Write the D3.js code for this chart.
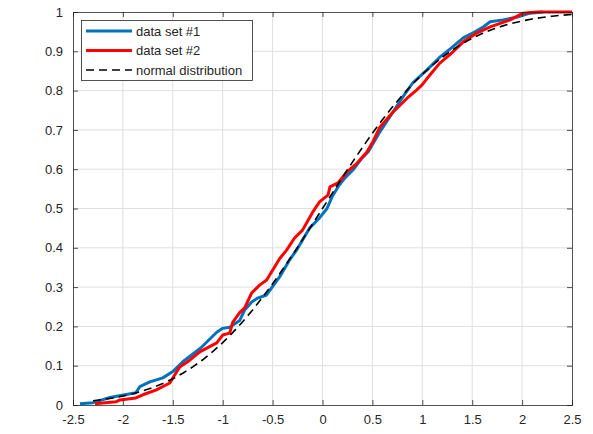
<!DOCTYPE html>
<html><head><meta charset="utf-8">
<script src="https://cdn.jsdelivr.net/npm/d3@7"></script>
<style>body{margin:0;background:#fff;} svg{display:block;} text{font-family:"Liberation Sans",Arial,sans-serif;}</style>
</head><body>
<svg id="c" width="593" height="434"></svg>
<script>
const xTicks = [-2.5,-2,-1.5,-1,-0.5,0,0.5,1,1.5,2,2.5];
const yTicks = [0,0.1,0.2,0.3,0.4,0.5,0.6,0.7,0.8,0.9,1];
const seriesNames = ["data set #1","data set #2","normal distribution"];

const set1X = [-2.43,-2.30,-2.13,-1.87,-1.83,-1.73,-1.60,-1.50,-1.40,-1.22,-1.06,-1.0,-0.93,-0.83,-0.78,-0.71,-0.65,-0.56,-0.51,-0.43,-0.33,-0.26,-0.20,-0.13,-0.03,0.045,0.095,0.155,0.225,0.305,0.395,0.46,0.575,0.705,0.805,0.905,1.045,1.175,1.28,1.41,1.51,1.61,1.68,1.81,1.95,2.08,2.21];
const set1Y = [0.003,0.006,0.019,0.031,0.047,0.059,0.069,0.085,0.11,0.145,0.185,0.195,0.198,0.215,0.242,0.262,0.272,0.28,0.298,0.326,0.369,0.394,0.42,0.45,0.476,0.50,0.529,0.555,0.578,0.598,0.628,0.645,0.695,0.745,0.784,0.82,0.852,0.885,0.906,0.934,0.947,0.962,0.975,0.98,0.987,0.997,1.0];

const set2X = [-2.28,-2.07,-2.03,-1.87,-1.80,-1.67,-1.53,-1.47,-1.43,-1.33,-1.23,-1.06,-1.0,-0.93,-0.90,-0.83,-0.78,-0.71,-0.63,-0.56,-0.50,-0.43,-0.36,-0.28,-0.20,-0.10,-0.03,0.055,0.075,0.155,0.245,0.345,0.445,0.505,0.575,0.705,0.845,0.945,1.0,1.045,1.175,1.28,1.41,1.55,1.68,1.88,2.01,2.15,2.5];
const set2Y = [0.003,0.008,0.013,0.018,0.026,0.038,0.056,0.081,0.097,0.114,0.135,0.158,0.178,0.183,0.21,0.235,0.247,0.285,0.305,0.318,0.343,0.372,0.394,0.425,0.445,0.49,0.517,0.534,0.555,0.565,0.593,0.615,0.644,0.67,0.707,0.745,0.78,0.802,0.815,0.83,0.87,0.892,0.924,0.947,0.962,0.98,0.997,1.0,1.0];

const normX = [-2.3,-2.2,-2.1,-2.0,-1.9,-1.8,-1.7,-1.6,-1.5,-1.4,-1.3,-1.2,-1.1,-1.0,-0.9,-0.8,-0.7,-0.6,-0.5,-0.4,-0.3,-0.2,-0.1,0,0.1,0.2,0.3,0.4,0.5,0.6,0.7,0.8,0.9,1.0,1.1,1.2,1.3,1.4,1.5,1.6,1.7,1.8,1.9,2.0,2.1,2.2,2.3,2.4,2.5];
const normY = [0.0107,0.0139,0.0179,0.0228,0.0287,0.0359,0.0446,0.0548,0.0668,0.0808,0.0968,0.1151,0.1357,0.1587,0.1841,0.2119,0.2420,0.2743,0.3085,0.3446,0.3821,0.4207,0.4602,0.5,0.5398,0.5793,0.6179,0.6554,0.6915,0.7257,0.7580,0.7881,0.8159,0.8413,0.8643,0.8849,0.9032,0.9192,0.9332,0.9452,0.9554,0.9641,0.9713,0.9772,0.9821,0.9861,0.9893,0.9918,0.9938];

const L=73, R=572, T=12, B=405;
const x = d3.scaleLinear().domain([-2.5,2.5]).range([L,R]);
const y = d3.scaleLinear().domain([0,1]).range([B,T]);
const svg = d3.select("#c");
const ink = "#262626";

// grid
svg.append("g").selectAll("line").data(xTicks.slice(1,-1)).join("line")
  .attr("x1",d=>x(d)).attr("x2",d=>x(d)).attr("y1",T).attr("y2",B)
  .attr("stroke","#dfdfdf").attr("stroke-width",1);
svg.append("g").selectAll("line").data(yTicks.slice(1,-1)).join("line")
  .attr("y1",d=>y(d)).attr("y2",d=>y(d)).attr("x1",L).attr("x2",R)
  .attr("stroke","#dfdfdf").attr("stroke-width",1);

const fmt = d => String(d);
const axB = d3.axisBottom(x).tickValues(xTicks).tickSize(-5).tickPadding(10).tickFormat(fmt);
const axT = d3.axisTop(x).tickValues(xTicks).tickSize(-5).tickFormat("");
const axL = d3.axisLeft(y).tickValues(yTicks).tickSize(-5).tickPadding(10).tickFormat(fmt);
const axR = d3.axisRight(y).tickValues(yTicks).tickSize(-5).tickFormat("");
function style(g){
  g.selectAll("path").attr("stroke",ink).attr("stroke-width",0.8);
  g.selectAll("line").attr("stroke",ink).attr("stroke-width",0.8);
  g.selectAll("text").attr("fill",ink).style("font-size","13px").style("font-family","Liberation Sans, Arial, sans-serif");
}

// lines
const line = d3.line().x(d=>x(d[0])).y(d=>y(d[1]));
const s1 = set1X.map((v,i)=>[v,set1Y[i]]);
const s2 = set2X.map((v,i)=>[v,set2Y[i]]);
const sn = normX.map((v,i)=>[v,normY[i]]);
svg.append("path").datum(s1).attr("d",line).attr("fill","none").attr("stroke","#0072BD").attr("stroke-width",3).attr("stroke-linejoin","round");
svg.append("path").datum(s2).attr("d",line).attr("fill","none").attr("stroke","#FF0000").attr("stroke-width",3).attr("stroke-linejoin","round");
svg.append("path").datum(sn).attr("d",line).attr("fill","none").attr("stroke","#000").attr("stroke-width",1.6).attr("stroke-dasharray","8,5");

svg.append("g").attr("transform",`translate(0,${B})`).call(axB).call(style);
svg.append("g").attr("transform",`translate(0,${T})`).call(axT).call(style);
svg.append("g").attr("transform",`translate(${L},0)`).call(axL).call(style);
svg.append("g").attr("transform",`translate(${R},0)`).call(axR).call(style);

// legend
const lg = svg.append("g");
lg.append("rect").attr("x",81.5).attr("y",20.5).attr("width",171).attr("height",60)
  .attr("fill","#fff").attr("stroke",ink).attr("stroke-width",0.8);
const cols = ["#0072BD","#FF0000","#000"];
const ys = [31,50.5,70];
seriesNames.forEach((n,i)=>{
  lg.append("line").attr("x1",86).attr("x2",132).attr("y1",ys[i]).attr("y2",ys[i])
    .attr("stroke",cols[i]).attr("stroke-width",i<2?3:1.6).attr("stroke-dasharray",i<2?null:"8,5");
  lg.append("text").attr("x",136).attr("y",ys[i]).attr("dy","0.35em").text(n)
    .attr("fill",ink).style("font-size","13px");
});
</script>
</body></html>
